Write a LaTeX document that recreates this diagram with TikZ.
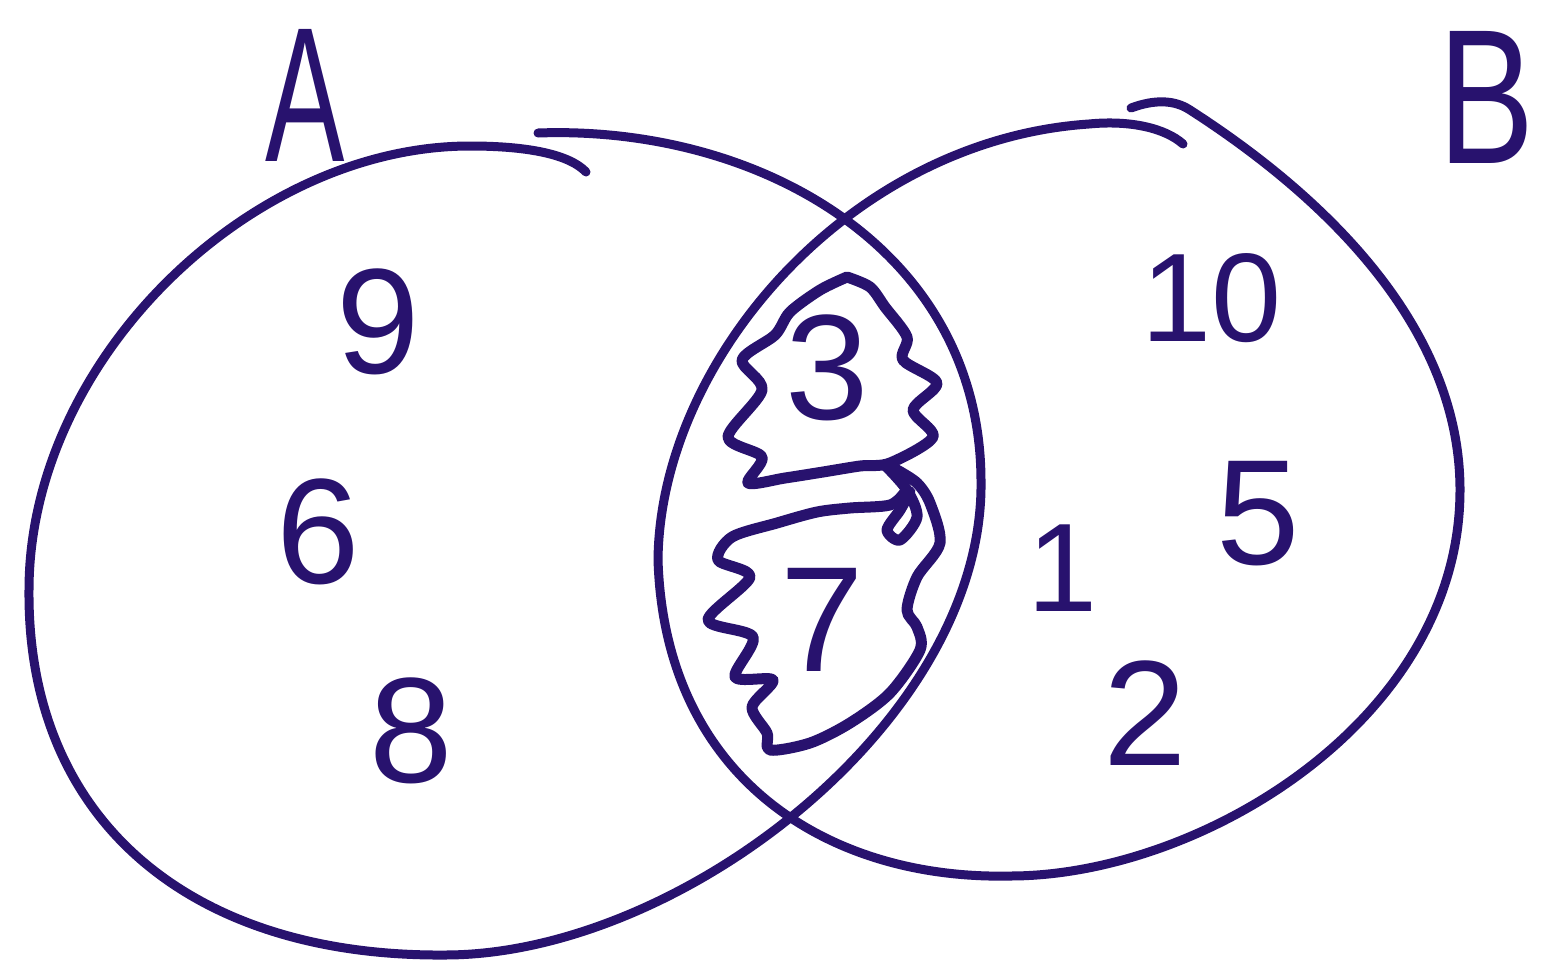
\documentclass[tikz,border=0pt]{standalone}
\usepackage{fontspec}
\setmainfont{Liberation Sans}
\definecolor{ink}{RGB}{40,18,110}
\tikzset{
  pen/.style={draw=ink, line width=9pt, line cap=round, line join=round},
  scrib/.style={draw=ink, line width=11pt, line cap=round, line join=round},
  num/.style={text=ink, font=\fontsize{150}{150}\selectfont, inner sep=0pt},
  smallnum/.style={text=ink, font=\fontsize{126}{126}\selectfont, inner sep=0pt},
  lbl/.style={text=ink, font=\fontsize{192}{192}\selectfont, inner sep=0pt}
}
\begin{document}
\begin{tikzpicture}[x=1pt,y=-1pt]
\useasboundingbox (0,0) rectangle (1541,964);
\fill[white] (0,0) rectangle (1541,964);
% circle A
\draw[pen] (538,133) .. controls (760,125) and (980,250) .. (981,480)
  .. controls (985,720) and (680,955) .. (445,955)
  .. controls (190,957) and (27,820) .. (29,590)
  .. controls (29,360) and (250,146) .. (470,146)
  .. controls (530,146) and (570,155) .. (586,172);
% circle B
\draw[pen] (1131,108) .. controls (1155,99) and (1175,100) .. (1190,110)
  .. controls (1330,200) and (1460,330) .. (1460,490)
  .. controls (1460,720) and (1200,876) .. (1010,876)
  .. controls (830,880) and (665,780) .. (658,560)
  .. controls (660,360) and (850,140) .. (1089,124)
  .. controls (1130,120) and (1165,128) .. (1183,144);
% upper scribble
\draw[scrib] plot[smooth, tension=0.5] coordinates {
 (847,277) (820,290) (790,312) (775,335) (742,360) (762,390) (728,437) (762,457)
 (748,483) (785,478) (823,472) (860,466) (890,463) (933,437) (913,410) (937,383)
 (903,360) (907,337) (885,307) (870,287) (847,277)};
\draw[scrib] plot[smooth, tension=0.5] coordinates {
 (885,465) (907,490) (917,517) (900,540) (887,530) (900,510) (910,492)};
% lower scribble
\draw[scrib] plot[smooth, tension=0.5] coordinates {
 (905,492) (890,505) (850,508) (817,512) (777,523) (732,537) (718,560) (750,577)
 (708,620) (753,637) (735,677) (773,680) (752,707) (767,733) (770,750) (810,743)
 (850,723) (890,693) (920,650) (917,627) (907,610) (917,577) (940,543) (930,503)
 (917,483) (897,470)};
% labels
\node[lbl] (A) at (305,95) {\scalebox{0.62}[1]{A}};
\node[lbl] (B) at (1487,97) {\scalebox{0.75}[1]{B}};
% numbers in A
\node[num] (n9) at (378,322) {9};
\node[num] (n6) at (318,532) {6};
\node[num] (n8) at (411,731) {8};
% numbers in both
\node[num] (n3) at (827,368) {3};
\node[num] (n7) at (822,620) {7};
% numbers in B
\node[smallnum] (n10) at (1212,298) {10};
\node[num] (n5) at (1258,514) {5};
\node[smallnum] (n1) at (1063,568) {1};
\node[num] (n2) at (1145,713) {2};
\end{tikzpicture}
\end{document}
